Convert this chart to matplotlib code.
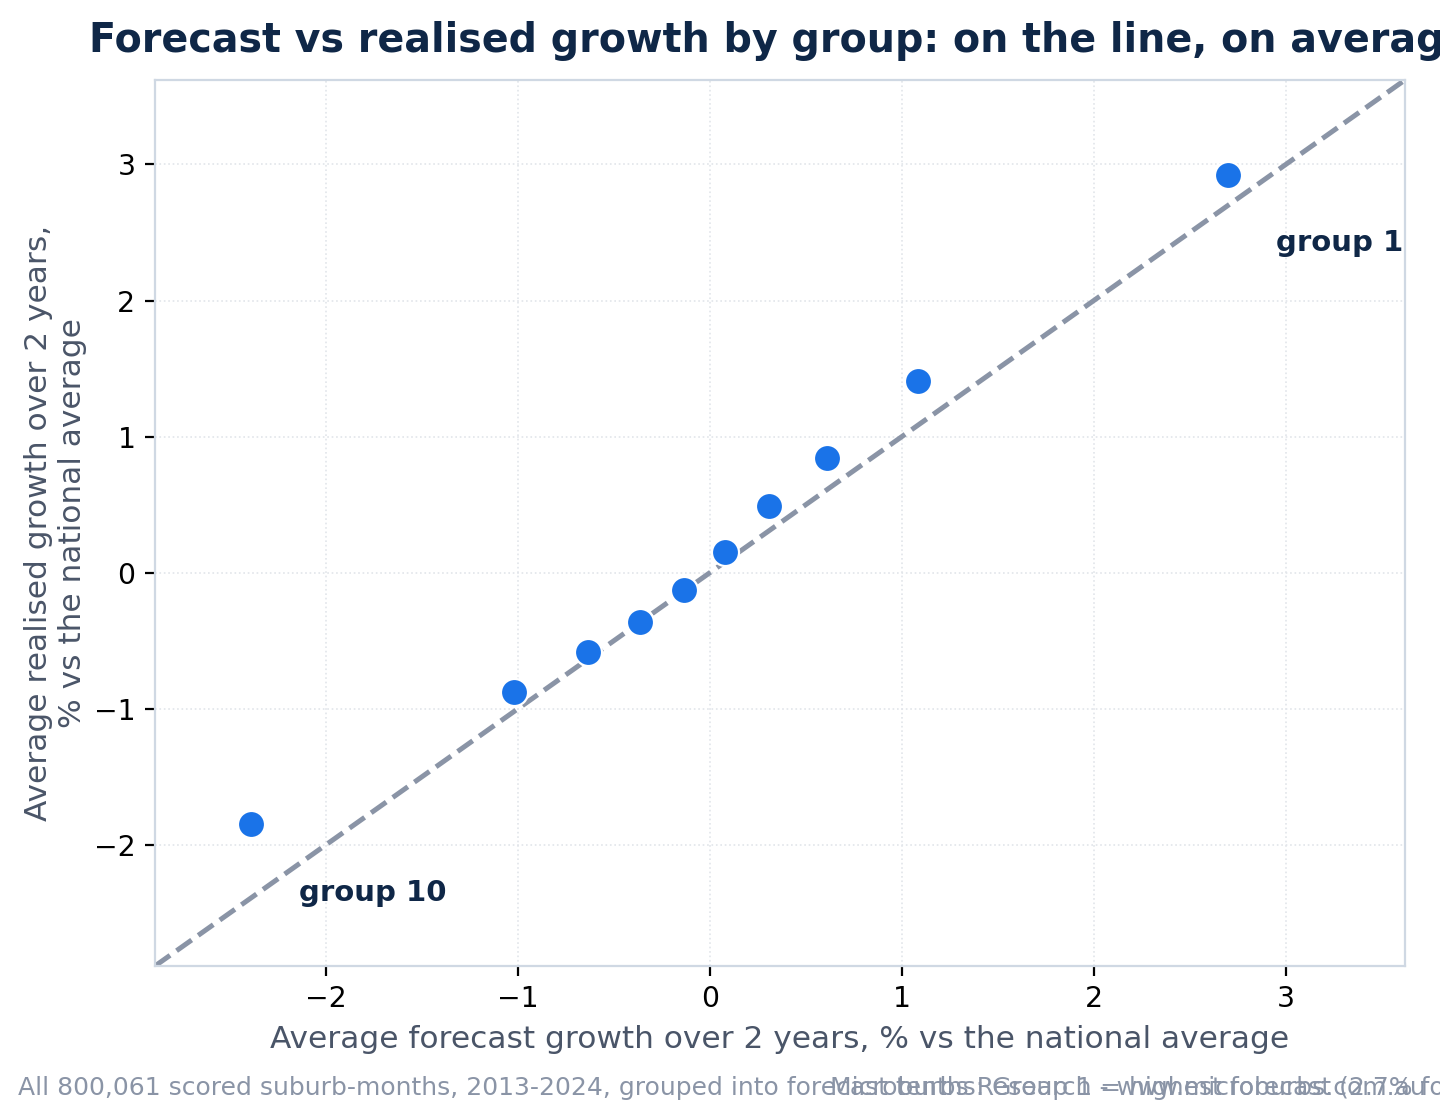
import matplotlib
matplotlib.use('Agg')
import matplotlib.pyplot as plt

# Forecast decile averages (group 10 .. group 1)
forecast = [-2.39, -1.02, -0.635, -0.365, -0.135, 0.078, 0.31, 0.61, 1.083, 2.70]
realised = [-1.85, -0.88, -0.58, -0.36, -0.13, 0.154, 0.49, 0.845, 1.41, 2.92]
group_labels = ['group 10', 'group 1']
label_idx = [0, 9]

axis_lo, axis_hi = -2.89, 3.62

navy = '#0f2747'
slate = '#4a5568'
muted = '#8a94a6'
blue = '#1a73e8'

fig = plt.figure(figsize=(7.2, 5.55), dpi=200)
ax = fig.add_axes([0.1076, 0.1297, 0.868, 0.7982])

# 45-degree reference line
ax.plot([axis_lo, axis_hi], [axis_lo, axis_hi], ls='--', color=muted, lw=1.8, zorder=2)
ax.scatter(forecast, realised, s=95, color=blue, edgecolor='white', linewidth=0.8, zorder=3)

for lab, i in zip(group_labels, label_idx):
    ax.text(forecast[i] + 0.25, realised[i] - 0.5, lab, ha='left', va='center',
            fontsize=10.5, fontweight='bold', color=navy)

ax.set_xlim(axis_lo, axis_hi)
ax.set_ylim(axis_lo, axis_hi)
ax.set_xticks([-2, -1, 0, 1, 2, 3])
ax.set_yticks([-2, -1, 0, 1, 2, 3])
ax.tick_params(labelsize=10.2, colors='black')
ax.grid(True, ls=':', color='#e2e5ea', lw=0.6)
ax.set_axisbelow(True)
for sp in ax.spines.values():
    sp.set_color('#cfd8e3')
    sp.set_linewidth(0.8)

ax.set_xlabel('Average forecast growth over 2 years, % vs the national average',
              fontsize=11.25, color=slate)
ax.set_ylabel('Average realised growth over 2 years,\n% vs the national average',
              fontsize=11.25, color=slate, labelpad=2.5)
ax.set_title('Forecast vs realised growth by group: on the line, on average',
             fontsize=14.25, fontweight='bold', color=navy, pad=10)

fig.text(0.0125, 0.009,
         'All 800,061 scored suburb-months, 2013-2024, grouped into forecast tenths: '
         'Group 1 = highest forecast (2.7% forecast vs 2.9% realised)',
         fontsize=9, color=muted, ha='left', va='bottom')
fig.text(0.99, 0.009, 'Microburbs Research - www.microburbs.com.au',
         fontsize=9, color=muted, ha='right', va='bottom')

fig.savefig('out.png', dpi=200)
